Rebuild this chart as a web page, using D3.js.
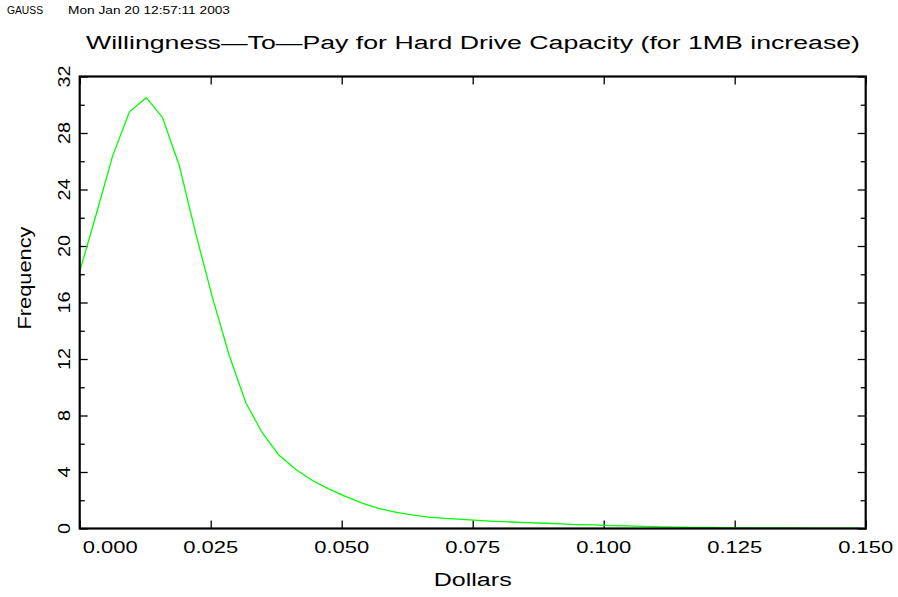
<!DOCTYPE html>
<html>
<head>
<meta charset="utf-8">
<script src="https://cdn.jsdelivr.net/npm/d3@7"></script>
<style>
  body { margin: 0; background: #fff; }
  svg { display: block; }
  text { font-family: "Liberation Sans", Arial, sans-serif; fill: #000; }
  .domain { display: none; }
  .tick line { stroke: #000; stroke-width: 1.3; }
</style>
</head>
<body>
<div id="chart"></div>
<script>
// data
let dollars = [0.0000, 0.0032, 0.0063, 0.0095, 0.0127, 0.0158, 0.0190, 0.0222,
  0.0253, 0.0285, 0.0317, 0.0348, 0.0380, 0.0412, 0.0444, 0.0475,
  0.0507, 0.0539, 0.0570, 0.0602, 0.0634, 0.0665, 0.0697, 0.0729,
  0.0760, 0.0792, 0.0824, 0.0855, 0.0887, 0.0919, 0.0950, 0.0982,
  0.1014, 0.1045, 0.1077, 0.1109, 0.1140, 0.1172, 0.1204, 0.1236,
  0.1267, 0.1299, 0.1331, 0.1362, 0.1394, 0.1426, 0.1457, 0.1489];
let frequency = [18.2, 22.3, 26.4, 29.5, 30.5, 29.1, 25.7, 20.8,
  16.4, 12.3, 8.9, 6.8, 5.2, 4.2, 3.4, 2.8,
  2.27, 1.8, 1.42, 1.16, 0.96, 0.8, 0.71, 0.64,
  0.57, 0.51, 0.46, 0.42, 0.37, 0.33, 0.28, 0.25,
  0.21, 0.18, 0.15, 0.12, 0.10, 0.08, 0.07, 0.06,
  0.05, 0.045, 0.04, 0.035, 0.03, 0.025, 0.02, 0.02];
let xTicks = [0, 0.025, 0.05, 0.075, 0.1, 0.125, 0.15];
let xTickLabels = ["0.000", "0.025", "0.050", "0.075", "0.100", "0.125", "0.150"];
let yTicks = [0, 4, 8, 12, 16, 20, 24, 28, 32];
let yMinorTicks = [2, 6, 10, 14, 18, 22, 26, 30];

let width = 898;
let height = 597;
let margin = {top: 76.5, right: 32.3, bottom: 68.5, left: 79.7};
let plotW = width - margin.left - margin.right;
let plotH = height - margin.top - margin.bottom;

let svg = d3.select("#chart").append("svg")
    .attr("width", width)
    .attr("height", height);

// header line
svg.append("text").attr("x", 7).attr("y", 14)
    .style("font-size", "10px")
    .attr("textLength", 36).attr("lengthAdjust", "spacingAndGlyphs")
    .text("GAUSS");
svg.append("text").attr("x", 68).attr("y", 14)
    .style("font-size", "10px")
    .attr("textLength", 162).attr("lengthAdjust", "spacingAndGlyphs")
    .text("Mon Jan 20 12:57:11 2003");

svg.append("text")
    .attr("x", 86).attr("y", 49)
    .style("font-size", "18px")
    .attr("textLength", 774).attr("lengthAdjust", "spacingAndGlyphs")
    .text("Willingness\u2014To\u2014Pay for Hard Drive Capacity (for 1MB increase)");

let g = svg.append("g")
    .attr("transform", "translate(" + margin.left + "," + margin.top + ")");

let xScale = d3.scaleLinear().domain([0, 0.15]).range([0, plotW]);
let yScale = d3.scaleLinear().domain([0, 32]).range([plotH, 0]);

// ticks on all four sides, pointing inward
g.append("g").attr("transform", "translate(0," + plotH + ")")
    .call(d3.axisBottom(xScale).tickValues(xTicks).tickSize(-8).tickFormat(""));
g.append("g")
    .call(d3.axisTop(xScale).tickValues(xTicks).tickSize(-8).tickFormat(""));
g.append("g")
    .call(d3.axisLeft(yScale).tickValues(yTicks).tickSize(-8).tickFormat(""));
g.append("g")
    .call(d3.axisLeft(yScale).tickValues(yMinorTicks).tickSize(-5).tickFormat(""));
g.append("g").attr("transform", "translate(" + plotW + ",0)")
    .call(d3.axisRight(yScale).tickValues(yTicks).tickSize(-8).tickFormat(""));
g.append("g").attr("transform", "translate(" + plotW + ",0)")
    .call(d3.axisRight(yScale).tickValues(yMinorTicks).tickSize(-5).tickFormat(""));

g.append("clipPath").attr("id", "clip")
    .append("rect").attr("width", plotW).attr("height", plotH);

let line = d3.line()
    .x((d, i) => xScale(dollars[i]))
    .y(d => yScale(d));

g.append("path")
    .datum(frequency)
    .attr("clip-path", "url(#clip)")
    .attr("fill", "none")
    .attr("stroke", "#00ff00")
    .attr("stroke-width", 1.3)
    .attr("d", line);

// frame
g.append("rect")
    .attr("width", plotW).attr("height", plotH)
    .attr("fill", "none").attr("stroke", "#000").attr("stroke-width", 2.2);

// x tick labels (first one shifted right like the original)
g.selectAll(".xlab").data(xTicks).enter().append("text")
    .attr("class", "xlab")
    .attr("x", (d, i) => i == 0 ? xScale(d) + 3 : xScale(d))
    .attr("y", plotH + 24.5)
    .attr("text-anchor", (d, i) => i == 0 ? "start" : "middle")
    .style("font-size", "16px")
    .attr("textLength", 55).attr("lengthAdjust", "spacingAndGlyphs")
    .text((d, i) => xTickLabels[i]);

// y tick labels, rotated
g.selectAll(".ylab").data(yTicks).enter().append("text")
    .attr("class", "ylab")
    .attr("transform", d => "translate(-10," + yScale(d) + ") rotate(-90)")
    .attr("text-anchor", "middle")
    .style("font-size", "16px")
    .attr("textLength", d => d < 10 ? 11 : 22).attr("lengthAdjust", "spacingAndGlyphs")
    .text(d => d);

svg.append("text")
    .attr("transform", "translate(31," + (margin.top + plotH / 2 + 27) + ") rotate(-90)")
    .style("font-size", "18px")
    .attr("textLength", 103).attr("lengthAdjust", "spacingAndGlyphs")
    .text("Frequency");

svg.append("text")
    .attr("x", margin.left + plotW / 2).attr("y", 586)
    .attr("text-anchor", "middle")
    .style("font-size", "18px")
    .attr("textLength", 78).attr("lengthAdjust", "spacingAndGlyphs")
    .text("Dollars");
</script>
</body>
</html>
